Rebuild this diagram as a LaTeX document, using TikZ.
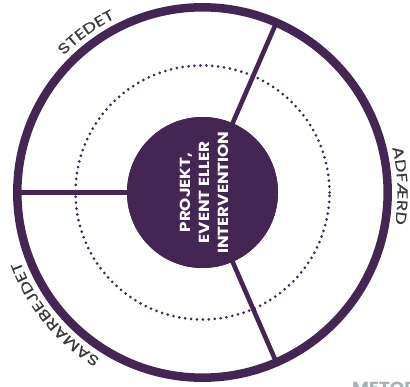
\documentclass[tikz,border=0pt]{standalone}
\usepackage{fontspec}
\setmainfont{Poppins}
\newfontfamily\wideface[FakeStretch=1.3,FakeBold=0.3,LetterSpace=1]{Poppins}
\newfontfamily\hubface[FakeStretch=1.15]{Poppins}
\usetikzlibrary{calc,decorations.text}
\definecolor{plum}{HTML}{432654}
\definecolor{ink}{HTML}{3A3A3C}
\definecolor{steel}{HTML}{A3B1B8}
\tikzset{
  ring/.style={draw=plum,line width=8.5pt},
  dots/.style={draw=plum,line width=3pt,line cap=round,dash pattern=on 0pt off 5.93pt},
  spoke/.style={draw=plum,line width=4.6pt},
  hubnode/.style={circle,fill=plum,minimum size=151pt,inner sep=0pt},
  hubtext/.style={text=white,font=\hubface\fontsize{14.6}{19}\selectfont\bfseries,align=center,rotate=90},
  arclabel/.style={decorate,decoration={text along path,text align=center,
     text={|\wideface\fontsize{14.5}{16}\selectfont\color{ink}|#1}}}
}
\begin{document}
\begin{tikzpicture}[x=1pt,y=1pt]
\useasboundingbox (0,0) rectangle (410,386);
\coordinate (c) at (202.5,193.5);
\draw[ring] (c) circle[radius=185.2];
\draw[dots] (c) circle[radius=127];
\coordinate (sa) at ($(c)+(66.5:183)$);
\coordinate (sb) at ($(c)+(-66.5:183)$);
\coordinate (sc) at ($(c)+(180:183)$);
\node[hubnode] (hub) at (c) {};
\draw[spoke] (hub.center) -- (sa);
\draw[spoke] (hub.center) -- (sb);
\draw[spoke] (hub.center) -- (sc);
\node[hubnode] (hubtop) at (c) {};
\node[hubtext] (title) at ($(c)+(1.5,0)$) {PROJEKT,\\EVENT ELLER\\INTERVENTION};
\path[arclabel={STEDET}] ($(c)+(166:195)$) arc[start angle=166,end angle=86,radius=195];
\path[arclabel={ADFÆRD}] ($(c)+(37:195)$) arc[start angle=37,end angle=-33,radius=195];
\path[arclabel={SAMARBEJDET}] ($(c)+(280:195)$) arc[start angle=280,end angle=159,radius=195];
\begin{scope}
\clip (0,0) rectangle (410,386);
\node[anchor=base west,inner sep=0pt,text=steel,font=\hubface\fontsize{16}{16}\selectfont\bfseries] (brand) at (352,-7) {METODE};
\end{scope}
\end{tikzpicture}
\end{document}
